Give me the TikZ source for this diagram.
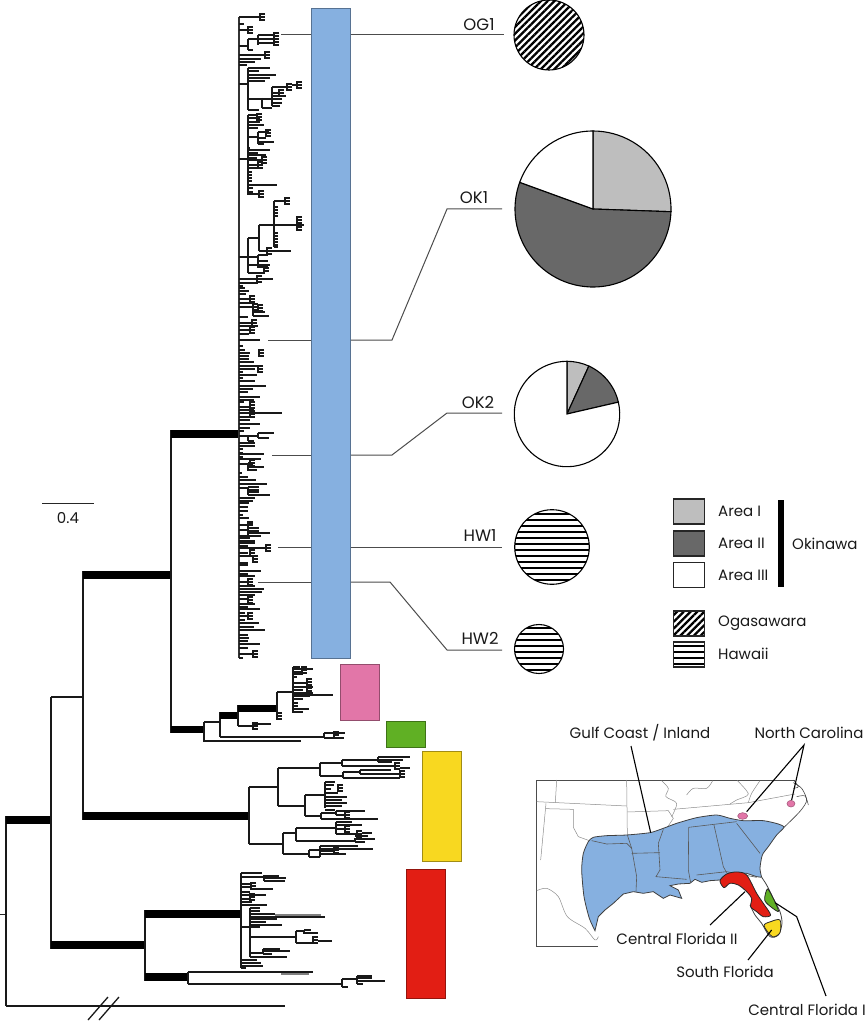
\documentclass[tikz,border=0pt]{standalone}
\usepackage{fontspec}
\setmainfont{Poppins}
\usepackage{xcolor}
\usetikzlibrary{calc,patterns.meta}

\begin{document}
\begin{tikzpicture}[x=1pt, y=-1pt, every node/.style={font=\fontsize{15}{17}\selectfont, inner sep=0pt, text=black!90}]
    % Define custom colors for the groups and the pie slices
    \definecolor{groupBlue}{RGB}{134,176,224}
    \definecolor{groupPink}{RGB}{226,118,168}
    \definecolor{groupGreen}{RGB}{96,176,36}
    \definecolor{groupYellow}{RGB}{248,216,32}
    \definecolor{groupRed}{RGB}{226,30,20}
    \definecolor{areaOne}{RGB}{190,190,190}
    \definecolor{areaTwo}{RGB}{104,104,104}

    \tikzset{
        branch/.style={line width=1.3pt, black!90},
        heavybranch/.style={line width=8pt, black},
        leader/.style={line width=1pt, black!70},
        callout/.style={line width=1.1pt, black},
        samplelabel/.style={font=\fontsize{16.5}{18}\selectfont},
        groupbar/.style={draw=#1!65!black, fill=#1, line width=1pt, minimum width=39pt, inner sep=0pt},
        pieline/.style={line width=1.1pt, black},
        stateline/.style={line width=0.5pt, black!45},
        innerline/.style={line width=0.6pt, black!65},
        swatch/.style={draw=black!85, line width=1.1pt, minimum width=31pt, minimum height=25pt},
        obliquefill/.style={pattern={Lines[angle=45,distance=4.8pt,line width=2.3pt]}, pattern color=black},
        levelfill/.style={pattern={Lines[angle=0,distance=6pt,line width=2.2pt]}, pattern color=black}
    }

    \path[use as bounding box] (0,0) rectangle (865,1024);

    % Macro: tips leaving one vertical line at x=#1, list of y/xend
    \newcommand{\tipsFrom}[2]{
        \foreach \yy/\xx in {#2}{
            \draw[branch] (#1,\yy) -- (\xx,\yy);
        }
    }
    % Macro: small comb of three short tips at (#1,#2)
    \newcommand{\comb}[2]{
        \draw[branch] ({#1+5},{#2-3}) -- ({#1},{#2-3}) -- ({#1},{#2+3}) -- ({#1+5},{#2+3});
        \draw[branch] (#1,#2) -- ({#1+5},#2);
    }
    % Macro: vertical split at x=#1 from y=#2 to y=#3
    \newcommand{\split}[3]{
        \draw[branch] (#1,#2) -- (#1,#3);
    }
    % Macro: pie slice, center (#1,#2), radius #3, angles #4 to #5, fill #6
    \newcommand{\pieSlice}[6]{
        \draw[pieline, fill=#6] (#1,#2) -- ({#1+#3*cos(#4)},{#2-#3*sin(#4)})
            arc[start angle={-(#4)}, end angle={-(#5)}, radius=#3] -- cycle;
    }

    % Root and the deep branches
    \draw[line width=1pt, black!85] (0,914) -- (6,914);
    \split{6}{816}{1006}
    \draw[heavybranch] (6,820) -- (51,820);
    \draw[branch] (6,1006) -- (285,1006);
    \draw[branch, black!90] (88,1020) -- (108,997);
    \draw[branch, black!90] (99,1020) -- (119,997);
    \split{51}{697}{949}
    \draw[branch] (51,697) -- (83,697);
    \draw[heavybranch] (51,945) -- (145,945);
    \split{83}{571}{820}
    \draw[heavybranch] (83,575) -- (171,575);
    \draw[heavybranch] (83,816) -- (249,816);
    \split{171}{430}{733}
    \draw[heavybranch] (171,434) -- (239,434);
    \draw[heavybranch, line width=7pt] (171,729) -- (204,729);

    % Blue clade: backbone and tips
    \draw[line width=1.4pt, black!80] (239,17) -- (239,658);
    \tipsFrom{239}{17/260, 24/244, 30/248, 46/248, 55/265, 59/261, 62/255, 65/247, 84/248, 159/248, 257/248,
        279/273, 283/258, 286/243, 288/245, 291/249, 294/246, 299/250, 303/255, 307/253, 317/248, 323/252,
        326/258, 330/250, 334/249, 340/260, 346/243, 350/245, 353/250, 356/249, 359/249, 362/254, 366/258,
        369/255, 372/243, 375/257, 378/243, 381/255, 386/266, 389/253, 392/248, 397/260, 400/254, 402/244,
        407/249, 410/254, 413/282, 417/250, 420/250, 424/260, 428/250, 431/244, 436/248, 443/255, 446/255,
        449/243, 453/243, 454/264, 457/243, 459/261, 464/248, 473/242, 477/248, 480/256, 484/267, 488/248,
        498/255, 501/253, 503/249, 507/248, 511/248, 515/243, 518/249, 525/248, 530/248, 536/261, 538/250,
        541/255, 543/255, 546/248, 548/266, 553/248, 556/250, 563/248, 565/248, 571/261, 574/248, 576/255,
        582/248, 586/255, 589/264, 592/262, 595/255, 599/248, 604/255, 607/248, 609/260, 613/245, 616/248,
        620/245, 623/248, 627/254, 630/248, 635/248, 638/249, 641/248, 644/260, 648/248, 654/258, 658/243}
    % top cluster
    \comb{260}{17} \comb{248}{30} \comb{265}{55}
    \split{248}{39}{50}
    \tipsFrom{248}{39/258, 50/253}
    \split{258}{35}{45}
    \tipsFrom{258}{35/274, 39/274, 43/274}
    \comb{274}{36} \comb{274}{42}
    % second cluster
    \split{248}{68}{110}
    \tipsFrom{248}{68/270, 71/259, 75/276, 78/270, 81/265, 99/262, 110/259}
    \split{262}{98}{108}
    \tipsFrom{262}{108/272}
    \draw[branch] (262,99) -- (272,99);
    \split{272}{87}{106}
    \tipsFrom{272}{87/287, 93/279, 96/286, 99/282, 103/282, 106/280}
    \comb{287}{87} \comb{279}{93}
    \draw[branch] (292,85) -- (297,85);
    \comb{297}{85}
    % third cluster
    \split{248}{115}{195}
    \tipsFrom{248}{115/257, 118/260, 122/260, 125/264, 128/258, 137/258, 148/250, 150/270, 153/258, 155/266,
        158/257, 160/262, 165/258, 168/258, 172/252, 175/252, 178/252, 181/252, 185/277, 188/253, 192/253, 194/260}
    \split{258}{132}{144}
    \tipsFrom{258}{132/269, 138/266, 142/274, 144/264}
    \comb{266}{133} \comb{262}{160} \comb{258}{165} \comb{259}{194} \comb{257}{117}
    % nested cluster
    \split{248}{238}{273}
    \tipsFrom{248}{238/259, 257/258, 265/270, 273/265}
    \split{259}{225}{251}
    \tipsFrom{259}{225/274, 251/291}
    \split{274}{201}{247}
    \tipsFrom{274}{201/285, 207/278, 210/278, 213/278, 216/278, 225/304, 233/278, 236/278, 239/278, 242/278, 245/278, 247/278}
    \comb{285}{201} \comb{297}{220} \comb{297}{227} \comb{267}{251}
    \tipsFrom{258}{255/268, 261/268, 267/268}
    \split{258}{255}{268}
    \comb{264}{268} \comb{257}{279}
    \comb{250}{299} \comb{253}{307} \comb{258}{308}
    \split{253}{307}{316}
    \tipsFrom{253}{312/265, 316/269}
    \comb{252}{323} \comb{250}{330} \comb{259}{353} \comb{258}{369}
    \comb{250}{405} \comb{250}{414}
    \split{248}{436}{441}
    \tipsFrom{248}{436/258, 441/254}
    \split{258}{433}{438}
    \tipsFrom{258}{433/274, 438/269}
    \comb{250}{463} \comb{248}{467}
    \tipsFrom{248}{463/252, 467/264, 470/257}
    \split{248}{487}{495}
    \tipsFrom{248}{487/259, 490/259, 492/259, 495/270}
    \split{248}{527}{535}
    \tipsFrom{248}{523/253, 528/259, 531/259, 533/270}
    \comb{248}{525} \comb{266}{548} \comb{250}{553} \comb{253}{559}
    \comb{248}{582} \comb{248}{600} \comb{248}{616}
    \tipsFrom{248}{623/259, 627/254, 630/265}
    \comb{253}{654}

    % Pink clade
    \draw[branch] (204,722) -- (220,722);
    \split{204}{722}{742}
    \draw[branch] (204,741) -- (301,741);
    \split{220}{712}{737}
    \draw[heavybranch, line width=7pt] (220,715) -- (238,715);
    \split{238}{705}{726}
    \draw[heavybranch, line width=7pt] (238,708) -- (277,708);
    \draw[branch] (238,726) -- (253,726);
    \comb{253}{726}
    \draw[branch] (253,724) -- (271,724);
    \draw[branch] (220,737) -- (324,737);
    \split{324}{733}{738}
    \tipsFrom{324}{733/345, 738/344}
    \comb{334}{735}
    \split{277}{692}{718}
    \draw[branch] (277,692) -- (293,692);
    \comb{277}{716}
    \split{293}{667}{713}
    \tipsFrom{293}{667/300, 669/313, 672/302, 674/303, 677/297, 683/307, 687/313, 690/303, 693/313, 696/310,
        699/303, 703/298, 706/298, 709/309, 712/303, 695/333}
    \comb{302}{670} \comb{307}{682} \comb{307}{688}

    % Yellow clade
    \split{249}{787}{844}
    \draw[branch] (249,787) -- (278,787);
    \draw[branch] (249,844) -- (283,844);
    \split{278}{768}{806}
    \draw[branch] (278,768) -- (320,768);
    \draw[branch] (278,806) -- (305,806);
    \split{320}{763}{776}
    \tipsFrom{320}{763/342, 776/343}
    \split{342}{760}{766}
    \tipsFrom{342}{760/378, 766/395}
    \split{378}{757}{762}
    \tipsFrom{378}{757/410, 760/403, 762/392}
    \comb{395}{766}
    \draw[branch] (400,768) -- (410,768);
    \split{343}{772}{778}
    \tipsFrom{343}{772/360, 778/400}
    \split{360}{770}{774}
    \tipsFrom{360}{770/391, 774/400}
    \comb{400}{774}
    \split{305}{795}{816}
    \tipsFrom{305}{795/325, 816/321}
    \split{325}{782}{808}
    \tipsFrom{325}{782/335, 785/334, 789/331, 793/338, 797/347, 800/342, 803/347, 806/342, 810/335}
    \comb{338}{788}
    \split{321}{813}{819}
    \tipsFrom{321}{813/336, 819/378}
    \split{336}{811}{815}
    \tipsFrom{336}{811/365, 815/345}
    \comb{345}{815}
    \split{283}{833}{854}
    \tipsFrom{283}{833/296, 854/309}
    \split{296}{828}{841}
    \tipsFrom{296}{828/336, 841/355}
    \split{336}{822}{834}
    \tipsFrom{336}{822/352, 825/362, 829/345, 834/357}
    \comb{345}{829} \comb{357}{834}
    \draw[branch] (362,833) -- (372,833);
    \split{355}{838}{842}
    \tipsFrom{355}{839/375, 842/365, 836/368}
    \split{309}{850}{857}
    \tipsFrom{309}{850/320, 857/320}
    \split{320}{846}{857}
    \tipsFrom{320}{846/358, 849/373, 851/334, 854/346}
    \comb{334}{850}

    % Red clade
    \split{145}{910}{981}
    \draw[heavybranch] (145,914) -- (241,914);
    \draw[heavybranch] (145,977) -- (188,977);
    \split{188}{972}{984}
    \draw[branch] (188,972) -- (313,972);
    \draw[branch, black!50, line width=2.4pt] (281,974) -- (309,974);
    \draw[branch] (188,984) -- (342,984);
    \split{342}{979}{987}
    \tipsFrom{342}{979/357, 987/348}
    \split{357}{976}{984}
    \tipsFrom{357}{976/372, 978/372, 981/385, 984/363}
    \split{241}{873}{968}
    \tipsFrom{241}{873/262, 877/264, 884/252, 887/251, 892/250, 895/265, 899/250, 902/252, 905/267,
        927/250, 960/257, 963/261, 966/263, 968/246}
    \split{264}{875}{881}
    \tipsFrom{264}{876/279, 878/286, 881/285}
    \draw[branch] (251,889) -- (273,889);
    \comb{251}{886} \comb{250}{897}
    \draw[branch] (250,895) -- (266,895);
    \split{250}{908}{957}
    \tipsFrom{250}{908/260, 911/260, 914/275, 917/277, 919/277, 922/266, 925/282, 927/260, 937/296, 953/263, 957/287}
    \draw[branch, black!50, line width=2.4pt] (275,915) -- (321,915);
    \draw[branch] (275,917) -- (325,917);
    \split{296}{931}{943}
    \tipsFrom{296}{931/304, 943/313}
    \split{304}{931}{934}
    \tipsFrom{304}{930/311, 933/318}
    \comb{313}{940}
    \draw[branch] (318,941) -- (332,941);
    \split{263}{949}{954}
    \tipsFrom{263}{949/280, 951/290, 954/272}

    % Group bars
    \node[groupbar=groupBlue, minimum height=649pt] (barBlue) at (331,333.5) {};
    \node[groupbar=groupPink, minimum height=56pt] (barPink) at (359.5,692) {};
    \node[groupbar=groupGreen, minimum height=26pt] (barGreen) at (406,734) {};
    \node[groupbar=groupYellow, minimum height=110pt] (barYellow) at (442,806) {};
    \node[groupbar=groupRed, minimum height=129pt] (barRed) at (426,933.5) {};

    % Sample labels and their leader lines
    \node[samplelabel] (lblOGone) at (479,25) {OG1};
    \node[samplelabel] (lblOKone) at (474,198) {OK1};
    \node[samplelabel] (lblOKtwo) at (478,402) {OK2};
    \node[samplelabel] (lblHWone) at (480,536) {HW1};
    \node[samplelabel] (lblHWtwo) at (480,638) {HW2};

    \coordinate (OGtip) at (281,35);
    \coordinate (OKonetip) at (268,340);
    \coordinate (OKtwotip) at (272,455);
    \coordinate (HWonetip) at (278,547);
    \coordinate (HWtwotip) at (258,582);

    \draw[leader] (OGtip) -- (barBlue.west |- OGtip);
    \draw[leader] (barBlue.east |- OGtip) -- (504,35);
    \draw[leader] (OKonetip) -- (barBlue.west |- OKonetip);
    \draw[leader] (barBlue.east |- OKonetip) -- (392,340) -- (447,209) -- (502,209);
    \draw[leader] (OKtwotip) -- (barBlue.west |- OKtwotip);
    \draw[leader] (barBlue.east |- OKtwotip) -- (392,455) -- (447,413) -- (502,413);
    \draw[leader] (HWonetip) -- (barBlue.west |- HWonetip);
    \draw[leader] (barBlue.east |- HWonetip) -- (502,547);
    \draw[leader] (HWtwotip) -- (barBlue.west |- HWtwotip);
    \draw[leader] (barBlue.east |- HWtwotip) -- (390,582) -- (447,650) -- (502,650);

    % Pies and hatched discs
    \draw[pieline, obliquefill] (549,35) circle[radius=35];
    \pieSlice{593}{209}{78}{90}{-2}{areaOne}
    \pieSlice{593}{209}{78}{-2}{-200}{areaTwo}
    \pieSlice{593}{209}{78}{160}{90}{white}
    \pieSlice{567}{414}{52.7}{90}{65.5}{areaOne}
    \pieSlice{567}{414}{52.7}{65.5}{13}{areaTwo}
    \pieSlice{567}{414}{52.7}{13}{-270}{white}
    \draw[pieline, levelfill] (552,547) circle[radius=37.3];
    \draw[pieline, levelfill] (539,649) circle[radius=24.5];

    % Scale bar
    \coordinate (scaleL) at (42,503);
    \coordinate (scaleR) at (94,503);
    \draw[line width=0.9pt, black!85] (scaleL) -- (scaleR);
    \node (lblScale) at (68,518) {0.4};

    % Legend
    \node[swatch, fill=areaOne] (swOne) at (689,511.5) {};
    \node[swatch, fill=areaTwo] (swTwo) at (689,543.5) {};
    \node[swatch, fill=white] (swThree) at (689,575) {};
    \node[swatch, obliquefill] (swOga) at (689,623.5) {};
    \node[swatch, levelfill] (swHaw) at (689,654.5) {};
    \node[anchor=west] (lgOne) at (718,511.5) {Area I};
    \node[anchor=west] (lgTwo) at (718,543.5) {Area II};
    \node[anchor=west] (lgThree) at (718,575) {Area III};
    \node[anchor=west] (lgOga) at (718,623) {Ogasawara};
    \node[anchor=west] (lgHaw) at (718,654) {Hawaii};
    \fill[black] (778,500) rectangle (783.5,587);
    \node[anchor=west] (lgOki) at (792,544) {Okinawa};

    % Map, in the coordinates of a 3x enlargement
    \begin{scope}[shift={(530,720)}, x=0.3333pt, y=-0.3333pt]
        % frame and state lines behind the range
        \draw[line width=0.8pt, black!70] (795,180) -- (20,180) -- (20,678) -- (205,678);
        \draw[stateline] (80,180) -- (76,248);
        \draw[stateline] (20,245) -- (290,258);
        \draw[stateline] (48,250) -- (32,420);
        \draw[stateline] (48,266) -- (130,268) -- (130,322) -- (145,350) -- (178,362);
        \draw[stateline] (290,180) -- (292,345);
        \draw[stateline] (292,276) -- (415,272) -- (430,295) -- (410,325);
        \draw[stateline] (430,268) -- (655,248) -- (795,222);
        \draw[stateline] plot[smooth] coordinates {(395,182) (415,205) (408,230) (440,250) (425,290)};
        \draw[stateline] plot[smooth] coordinates {(470,225) (490,205) (530,205) (548,182)};
        \draw[stateline] plot[smooth] coordinates {(622,182) (655,222) (620,240) (600,252)};
        \draw[stateline] plot[smooth] coordinates {(690,182) (665,220) (655,248)};
        \draw[stateline] plot[smooth] coordinates {(20,512) (50,505) (85,530) (112,590) (165,625) (195,660) (205,650)};

        % Gulf Coast / Inland range
        \draw[line width=0.8pt, black!75, fill=groupBlue] plot[smooth, tension=0.4] coordinates {(195,632) (178,595) (162,530)
            (155,450) (160,400) (175,365) (190,352) (230,347)
            (290,345) (360,338) (400,325) (440,310) (500,293) (560,285) (600,295) (640,302)
            (700,302) (745,312) (762,322) (740,345) (715,380) (697,405) (690,445) (695,472)}
            -- (680,470) -- (650,460) -- (600,460) -- (570,480) -- (540,482) -- (515,487) -- (495,478) -- (480,490)
            -- (445,492) -- (420,497) -- (445,510) -- (455,535) -- (420,525) -- (400,535) -- (370,515) -- (340,520)
            -- (310,515) -- (280,522) -- (250,550) -- (225,570) -- (205,590) -- cycle;

        % state lines in the range
        \draw[innerline] (185,362) -- (230,372) -- (290,370) -- (305,385) -- (320,470) -- (318,515);
        \draw[innerline] (305,400) -- (390,398);
        \draw[innerline] (292,345) -- (305,385);
        \draw[innerline] (400,328) -- (385,370) -- (390,450) -- (378,470) -- (470,478);
        \draw[innerline] (476,322) -- (475,450) -- (482,488);
        \draw[innerline] (552,315) -- (580,440) -- (590,458);
        \draw[innerline] (500,465) -- (590,455) -- (680,472);
        \draw[innerline] (476,322) -- (620,305);
        \draw[innerline] (620,310) -- (690,400);

        % Florida and the Atlantic coast
        \draw[line width=0.8pt, black!75, fill=white] plot[smooth] coordinates {(695,472) (710,495) (730,535) (750,575) (756,610)
            (745,645) (720,650) (695,610) (675,585) (660,555)};
        \draw[line width=0.6pt, black!75] plot[smooth] coordinates {(762,322) (790,295) (815,268) (830,240) (815,205) (790,188)};
        \draw[line width=0.5pt, black!75] plot[smooth] coordinates {(800,230) (825,228) (835,255)};
        \draw[line width=0.5pt, black!75] plot[smooth] coordinates {(790,180) (805,200) (790,205)};
        \draw[line width=0.8pt, black!85, fill=groupRed] plot[smooth cycle, tension=0.5] coordinates {(570,482) (590,462) (620,456)
            (650,465) (680,520) (700,550) (722,585) (700,590) (680,575) (662,560) (665,535) (650,515) (625,495) (600,490) (582,503)};
        \draw[line width=0.8pt, black!85, fill=groupGreen] plot[smooth cycle, tension=0.5] coordinates {(712,507) (727,530) (746,574)
            (722,560) (704,540)};
        \draw[line width=0.8pt, black!85, fill=groupYellow] plot[smooth cycle, tension=0.5] coordinates {(702,617) (722,605) (750,600)
            (750,638) (727,650)};
        \draw[line width=0.5pt, draw=groupPink!70!black, fill=groupPink] (638,288) ellipse[x radius=15, y radius=10];
        \draw[line width=0.5pt, draw=groupPink!70!black, fill=groupPink] (783,251) ellipse[x radius=12, y radius=10];

        % end points of the call-outs on the map
        \coordinate (gulfEnd) at (362,338);
        \coordinate (ncPinkA) at (650,275);
        \coordinate (ncPinkB) at (785,240);
        \coordinate (cfTwoEnd) at (645,515);
        \coordinate (sfEnd) at (725,630);
        \coordinate (cfOneBend) at (800,590);
        \coordinate (cfOneEnd) at (735,548);
    \end{scope}

    % Map labels and their call-outs
    \node (lblGulf) at (640,733) {Gulf Coast / Inland};
    \node (lblNC) at (809,733) {North Carolina};
    \node (lblCFtwo) at (677,939) {Central Florida II};
    \node (lblSF) at (725,972) {South Florida};
    \node (lblCFone) at (807,1010) {Central Florida I};
    \coordinate (gulfTop) at (631,746);
    \coordinate (ncTop) at (804,745);
    \draw[callout] (gulfTop) -- (gulfEnd);
    \draw[callout] (ncPinkA) -- (ncTop) -- (ncPinkB);
    \draw[callout] (710,925) -- (cfTwoEnd);
    \draw[callout] (748,960) -- (sfEnd);
    \draw[callout] (826,996) -- (cfOneBend) -- (cfOneEnd);
\end{tikzpicture}
\end{document}
